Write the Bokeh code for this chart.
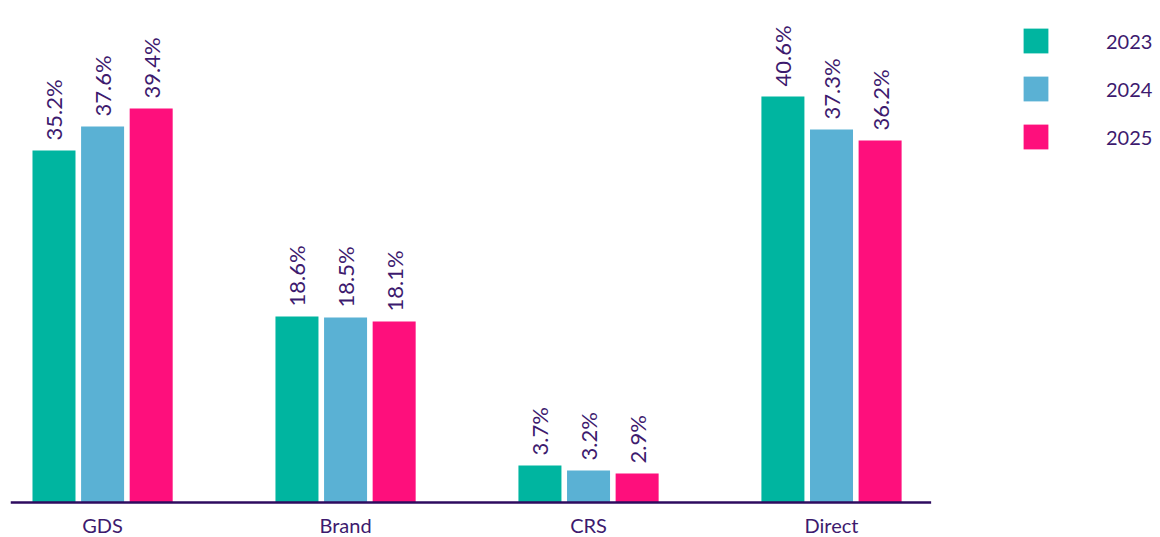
import math
from bokeh.plotting import figure
from bokeh.models import ColumnDataSource, Range1d, Legend, LegendItem
from bokeh.core.properties import value
from bokeh.embed import file_html
from bokeh.resources import INLINE

categories = ["GDS", "Brand", "CRS", "Direct"]
years = ["2023", "2024", "2025"]
v2023 = [35.2, 18.6, 3.7, 40.6]
v2024 = [37.6, 18.5, 3.2, 37.3]
v2025 = [39.4, 18.1, 2.9, 36.2]
colors = ["#00B5A0", "#5AB1D4", "#FE0F7C"]
series = [v2023, v2024, v2025]

TEXT = "#3D1A6E"
FONT = "Lato"

p = figure(width=1160, height=537, output_backend="svg", toolbar_location=None,
           x_range=Range1d(-0.379, 4.354), y_range=Range1d(-3.5, 50.2),
           min_border_left=10, min_border_right=0, min_border_top=0, min_border_bottom=0)
p.outline_line_color = None
p.xgrid.visible = False
p.ygrid.visible = False
p.xaxis.visible = False
p.yaxis.visible = False
p.background_fill_color = "white"

offsets = [-0.2, 0.0, 0.2]
renderers = []
for i, (vals, col, off) in enumerate(zip(series, colors, offsets)):
    xs = [k + off for k in range(len(categories))]
    src = ColumnDataSource(dict(x=xs, top=vals, lab=[f"{v:.1f}%" for v in vals]))
    r = p.vbar(x="x", top="top", bottom=0, width=0.177, source=src, fill_color=col, line_color=None)
    renderers.append(r)
    p.text(x="x", y="top", text="lab", source=src, angle=math.pi / 2, y_offset=-10,
           text_align="left", text_baseline="middle", text_color=TEXT,
           text_font=value(FONT), text_font_size="22px")

# baseline (category axis line)
p.segment(x0=[-0.379], y0=[0], x1=[3.41], y1=[0], line_color="#2E0B5F", line_width=2.5)

# category labels
csrc = ColumnDataSource(dict(x=list(range(len(categories))), y=[0] * len(categories), t=categories))
p.text(x="x", y="y", text="t", source=csrc, y_offset=34, text_align="center",
       text_baseline="bottom", text_color=TEXT, text_font=value(FONT),
       text_font_size="20px")

legend = Legend(items=[LegendItem(label=y, renderers=[r]) for y, r in zip(years, renderers)],
                location=(1010, 385), glyph_width=31, glyph_height=31, spacing=17,
                label_standoff=55, padding=0, margin=0, border_line_color=None,
                background_fill_alpha=0, label_text_font=FONT, label_text_font_size="20px",
                label_text_color=TEXT, label_height=31)
p.add_layout(legend)

open("out.html", "w").write(file_html(p, INLINE))
